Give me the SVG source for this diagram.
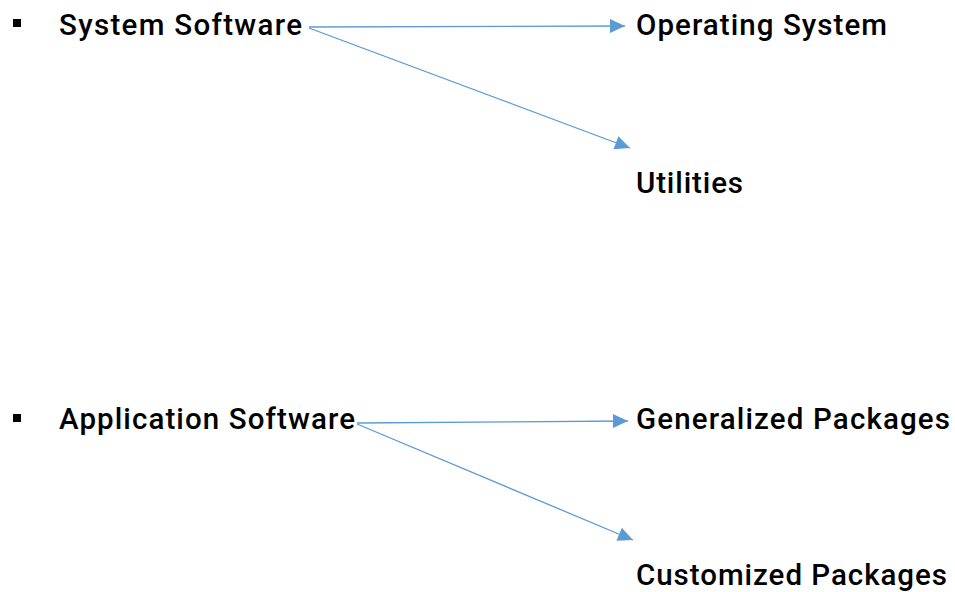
<svg xmlns="http://www.w3.org/2000/svg" width="955" height="592" viewBox="0 0 955 592">
  <style>
    .lbl { font-family: Roboto, "Liberation Sans", sans-serif; font-weight: 500; font-size: 29.5px; fill: #000; }
    .bullet { fill: #000; }
    .link { stroke: #5B9BD5; stroke-width: 1.3; fill: none; marker-end: url(#head); }
  </style>
  <defs>
    <marker id="head" markerUnits="userSpaceOnUse" markerWidth="17" markerHeight="17" viewBox="0 0 17 17" refX="16" refY="8.5" orient="auto">
      <path d="M1,1.5 L16,8.5 L1,15.5 Z" fill="#5B9BD5"/>
    </marker>
  </defs>
  <rect width="955" height="592" fill="#fff"/>

  <!-- connectors -->
  <g id="connectors">
    <path class="link" d="M309,27 L625,26"/>
    <path class="link" d="M309,28 L630,148"/>
    <path class="link" d="M357,423 L628,421"/>
    <path class="link" d="M357,424 L633,540"/>
  </g>

  <g id="system-software">
    <rect class="bullet" x="13" y="19" width="8" height="8"/>
    <text class="lbl" x="59" y="35" textLength="243" lengthAdjust="spacing">System Software</text>
  </g>
  <g id="operating-system">
    <text class="lbl" x="636" y="35" textLength="251" lengthAdjust="spacing">Operating System</text>
  </g>
  <g id="utilities">
    <text class="lbl" x="636" y="193" textLength="107" lengthAdjust="spacing">Utilities</text>
  </g>

  <g id="application-software">
    <rect class="bullet" x="13" y="414" width="8" height="8"/>
    <text class="lbl" x="59" y="429" textLength="296" lengthAdjust="spacing">Application Software</text>
  </g>
  <g id="generalized-packages">
    <text class="lbl" x="636" y="429" textLength="314" lengthAdjust="spacing">Generalized Packages</text>
  </g>
  <g id="customized-packages">
    <text class="lbl" x="636" y="585" textLength="311" lengthAdjust="spacing">Customized Packages</text>
  </g>
</svg>
